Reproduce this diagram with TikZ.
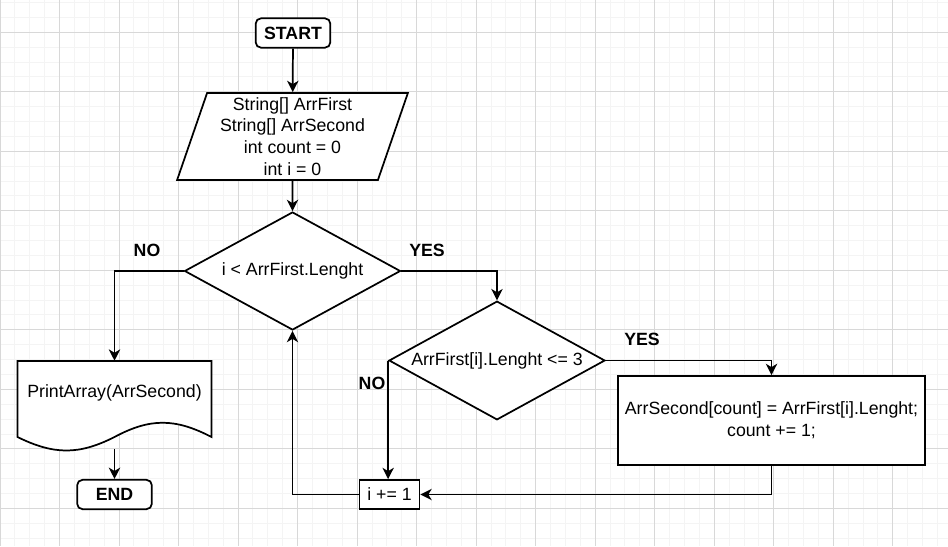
\documentclass[tikz,border=0pt]{standalone}
\usepackage{fontspec}
\setmainfont{Liberation Sans}
\usetikzlibrary{shapes.geometric,arrows.meta}

\begin{document}
\begin{tikzpicture}[x=0.75pt,y=0.75pt,yscale=-1,
  font=\fontsize{13.3pt}{16.3pt}\selectfont,
  minorgrid/.style={color={rgb, 255:red, 244; green, 244; blue, 244 }, line width=0.75pt},
  majorgrid/.style={color={rgb, 255:red, 216; green, 216; blue, 216 }, line width=0.75pt},
  box/.style={draw, line width=1.3pt, fill=white, inner sep=0pt, align=center},
  terminal/.style={box, rounded corners=4pt, minimum width=56pt, minimum height=22pt, font=\fontsize{13.3pt}{16.3pt}\selectfont\bfseries},
  flow/.style={line width=1.3pt, -{Stealth[length=8.5pt,width=8.5pt,inset=2.5pt]}},
  lbl/.style={font=\fontsize{13.3pt}{16.3pt}\selectfont\bfseries}]
%uncomment if require: \path (0,546); %set diagram left start at 0, and has height of 546
\useasboundingbox (0,0) rectangle (948,546);

%Shape: Grid
\fill[white] (0,0) rectangle (948,546);
\foreach \gx in {0,...,63} \draw[minorgrid] ({14.88*\gx},0) -- ({14.88*\gx},546);
\foreach \gy in {0,...,36} \draw[minorgrid] (0,{2.5+14.88*\gy}) -- (948,{2.5+14.88*\gy});
\foreach \gx in {0,...,15} \draw[majorgrid] ({59.52*\gx},0) -- ({59.52*\gx},546);
\foreach \gy in {0,...,8} \draw[majorgrid] (0,{32.3+59.5*\gy}) -- (948,{32.3+59.5*\gy});

%Shape: Rounded Rect
\draw (293,33) node [terminal] (start) {START};
%Shape: Parallelogram
\draw (292.5,136.5) node [box, trapezium, trapezium left angle=72, trapezium right angle=108, trapezium stretches=true, minimum width=173.25pt, minimum height=65.25pt] (init) {String[] ArrFirst\\String[] ArrSecond\\int count = 0\\int i = 0};
%Shape: Diamond
\draw (292.5,271) node [box, diamond, aspect=1.83, minimum width=162pt, minimum height=88.5pt] (cond1) {i < ArrFirst.Lenght};
%Shape: Diamond
\draw (497,360.5) node [box, diamond, aspect=1.83, minimum width=162pt, minimum height=89pt] (cond2) {ArrFirst[i].Lenght <= 3};
%Shape: Rectangle
\draw (771.5,420.5) node [box, minimum width=230.25pt, minimum height=66.75pt] (assign) {ArrSecond[count] = ArrFirst[i].Lenght;\\count += 1;};
%Shape: Rectangle
\draw (389.5,494.5) node [box, minimum width=45pt, minimum height=21.75pt] (inc) {i += 1};
%Shape: Document
\draw [line width=1.3pt, fill=white] (17.5,361) -- (211.5,361) -- (211.5,437) .. controls (175,418) and (150,418) .. (114.5,437) .. controls (79,455) and (54,455) .. (17.5,437) -- cycle ;
\draw (114.5,405) node [inner sep=0pt, minimum width=145.5pt, text height=27pt, text depth=39pt] (print) {PrintArray(ArrSecond)};
%Shape: Rounded Rect
\draw (114.5,494.5) node [terminal] (end) {END};

% Text Node
\draw (147,250) node [lbl] (no1) {NO};
% Text Node
\draw (427,250) node [lbl] (yes1) {YES};
% Text Node
\draw (642,339) node [lbl] (yes2) {YES};
% Text Node
\draw (372,383) node [lbl] (no2) {NO};

%Straight Lines
\draw [flow] (start) -- (init);
\draw [flow] (init) -- (cond1);
\draw [flow] (cond1.west) -| (print.north);
\draw [flow] (cond1.east) -| (cond2.north);
\draw [flow] (cond2.east) -| (assign.north);
\draw [flow] (cond2.west) -- (cond2.west |- inc.north);
\draw [flow] (assign.south) |- (inc.east);
\draw [flow] (inc.west) -| (cond1.south);
\draw [flow] (print.south) -- (end.north);
\end{tikzpicture}
\end{document}
